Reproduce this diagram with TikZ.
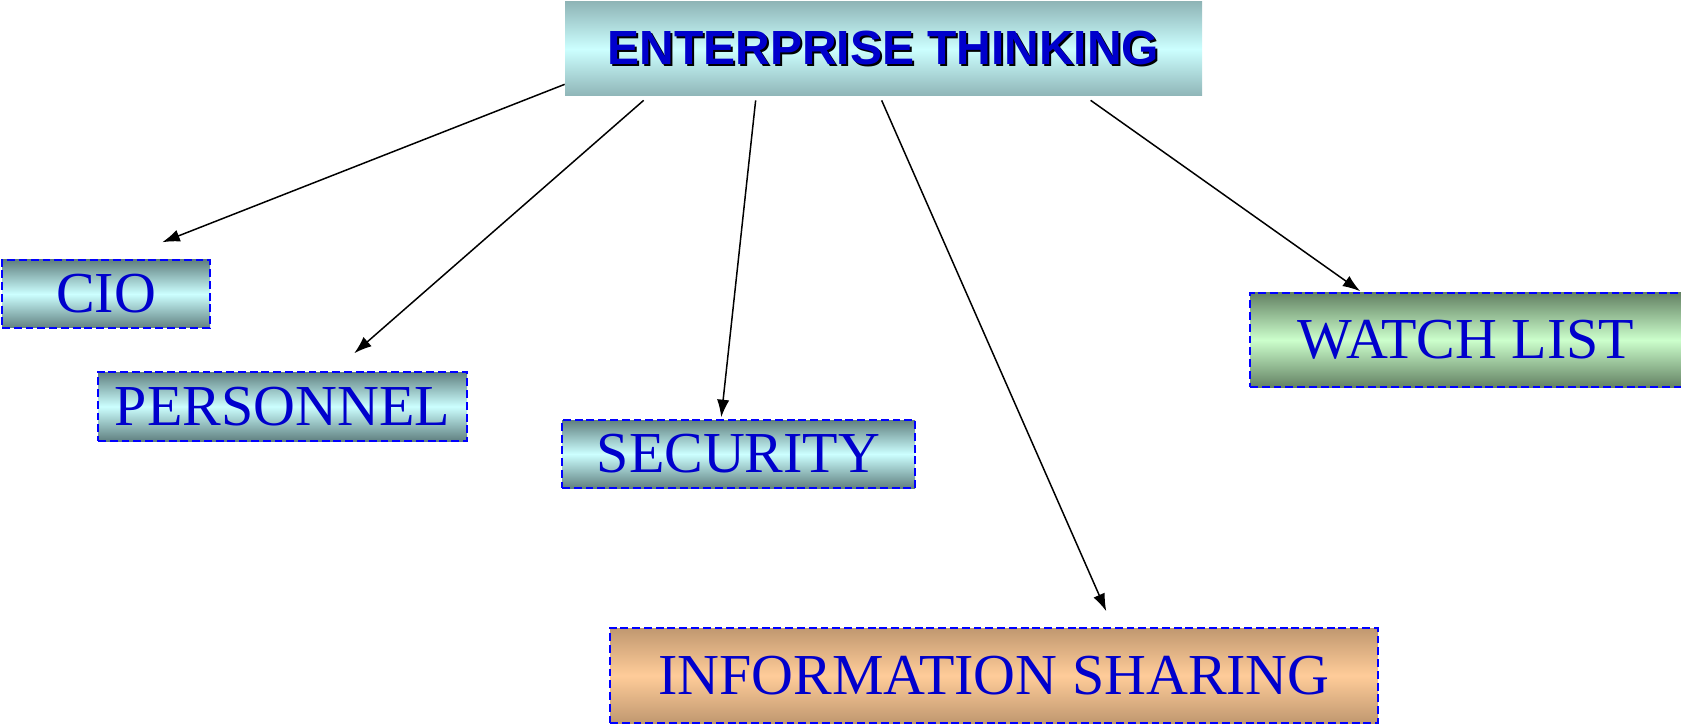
\documentclass[tikz,border=0pt]{standalone}
\usepackage{fontspec}
\setmainfont{Liberation Serif}
\newfontfamily\headfont{Liberation Sans}
\usepackage{tikz}
\usetikzlibrary{arrows.meta}
\usetikzlibrary{calc}

\definecolor{etedge}{RGB}{143,181,183}
\definecolor{etmid}{RGB}{204,255,255}
\definecolor{tealedge}{RGB}{96,128,128}
\definecolor{tealmid}{RGB}{204,255,255}
\definecolor{greenedge}{RGB}{100,130,100}
\definecolor{greenmid}{RGB}{204,255,204}
\definecolor{tanedge}{RGB}{192,152,112}
\definecolor{tanmid}{RGB}{255,204,153}
\definecolor{labelblue}{RGB}{0,0,204}

% bold title with a small black drop shadow
\newcommand{\shadowed}[1]{\makebox[0pt][l]{\hspace{1.1pt}\raisebox{-1.1pt}{\color{black}#1}}#1}

\tikzset{
  topic/.style={inner sep=0pt, text=labelblue, font=\fontsize{33}{36}\selectfont,
    draw=blue, line width=0.85pt, dash pattern=on 4.5pt off 2.2pt},
  teal/.style={topic, top color=tealedge, bottom color=tealedge, middle color=tealmid},
  green/.style={topic, top color=greenedge, bottom color=greenedge, middle color=greenmid},
  tan/.style={topic, top color=tanedge, bottom color=tanedge, middle color=tanmid},
  link/.style={-{Latex[length=10pt,width=7pt]}, line width=0.85pt}
}

\begin{document}
\begin{tikzpicture}[x=0.02cm, y=-0.02cm]
\useasboundingbox (0,0) rectangle (1681,726);

\node[inner sep=0pt, minimum width=637*0.02cm, minimum height=94*0.02cm,
  top color=etedge, bottom color=etedge, middle color=etmid,
  text=labelblue, font=\headfont\bfseries\fontsize{27.3}{30}\selectfont]
  (et) at (883.5,49) {\shadowed{ENTERPRISE THINKING}};

\node[teal, minimum width=208*0.02cm, minimum height=68*0.02cm](cio) at (106,294) {CIO};
\node[teal, minimum width=369*0.02cm, minimum height=69*0.02cm](pers) at (282.5,406.5) {PERSONNEL};
\node[teal, minimum width=353*0.02cm, minimum height=68*0.02cm](sec) at (738.5,454) {SECURITY};
\node[green, minimum width=432*0.02cm, minimum height=94*0.02cm](watch) at (1466,340) {WATCH LIST};
\node[tan, minimum width=768*0.02cm, minimum height=95*0.02cm](info) at (994,675.5) {INFORMATION SHARING};

\draw[link] ($(et.south west)+(0,-12)$) -- ($(cio.north west)+(161,-17)$);
\draw[link] ($(et.south west)+(79,4)$) -- ($(pers.north west)+(257,-18)$);
\draw[link] ($(et.south west)+(191,4)$) -- ($(sec.north west)+(160,-2)$);
\draw[link] ($(et.south west)+(317,4)$) -- ($(info.north west)+(497,-16)$);
\draw[link] ($(et.south west)+(526,4)$) -- ($(watch.north west)+(111,-1)$);
\end{tikzpicture}
\end{document}
